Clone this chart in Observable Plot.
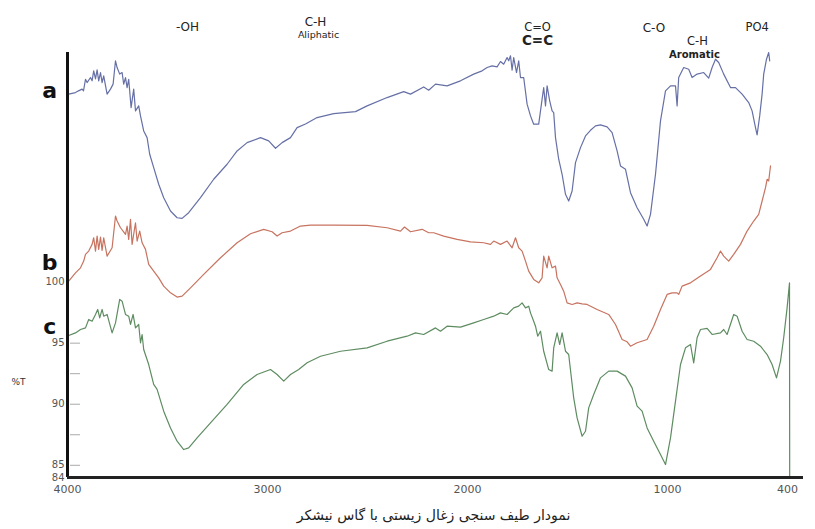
<!DOCTYPE html>
<html>
<head>
<meta charset="utf-8">
<script src="https://cdn.jsdelivr.net/npm/d3@7"></script>
<script src="https://cdn.jsdelivr.net/npm/@observablehq/plot@0.6"></script>
<style>
  html, body { margin: 0; padding: 0; background: #fff; }
  #caption { width: 815px; height: 27px; line-height: 27px; text-align: center; font-family: "DejaVu Sans", "Noto Sans", sans-serif; font-size: 14px; color: #222; padding-left: 52px; box-sizing: border-box; direction: rtl; }
</style>
</head>
<body>
<div id="chart"></div>
<div id="caption">نمودار طیف سنجی زغال زیستی با گاس نیشکر</div>
<script>
// Wavenumber (cm-1) and %T readings for each spectrum (a, b offset upward as in the figure)
const wnA = [3994,3960,3945,3927,3920,3910,3902,3885,3877,3869,3860,3852,3844,3835,3827,3819,3802,3785,3772,3760,3752,3739,3727,3719,3710,3702,3694,3682,3669,3660,3644,3635,3619,3602,3589,3569,3544,3519,3485,3452,3427,3394,3335,3269,3202,3152,3102,3035,2994,2960,2927,2885,2852,2810,2752,2669,2560,2502,2402,2319,2285,2219,2194,2160,2102,2035,1969,1927,1902,1877,1852,1835,1819,1802,1794,1785,1777,1769,1755,1744,1735,1719,1702,1685,1669,1644,1627,1619,1610,1602,1589,1577,1569,1560,1544,1527,1510,1494,1477,1460,1435,1410,1385,1360,1335,1302,1277,1252,1235,1210,1185,1152,1119,1102,1085,1060,1035,1010,985,960,952,944,919,894,877,852,819,794,777,760,744,719,685,660,627,594,577,560,552,539,527,519,505,494,489];
const tA = [115.39,115.52,115.66,115.80,115.66,116.61,116.34,116.75,116.48,117.30,116.64,117.38,116.48,117.16,116.34,116.89,115.39,115.80,116.21,118.12,117.57,117.03,117.16,116.21,116.75,115.93,116.61,114.29,115.80,114.02,114.43,113.61,112.38,111.83,110.47,109.37,108.01,106.91,105.82,105.27,105.22,105.68,106.91,108.42,109.65,110.74,111.42,111.83,111.56,110.96,111.42,111.83,112.65,112.95,113.47,113.80,113.96,114.43,115.11,115.60,115.39,115.98,115.71,116.21,116.07,116.48,117.03,117.30,117.57,117.71,117.62,118.06,117.84,118.39,118.12,118.53,117.35,118.39,117.16,118.12,116.75,116.75,114.57,113.61,112.93,112.93,114.98,115.93,114.43,116.07,114.84,114.02,113.88,111.83,110.06,108.83,107.19,106.64,107.46,109.78,111.01,111.97,112.43,112.79,112.87,112.71,112.24,110.74,109.51,109.24,107.32,106.09,105.14,104.59,105.55,108.83,113.20,115.66,116.07,116.07,114.43,116.75,117.57,117.43,116.75,117.03,117.16,116.70,117.57,118.25,117.98,117.03,115.93,115.93,115.39,114.70,114.02,112.65,112.05,113.61,115.39,117.03,118.25,118.80,118.12];

const wnB = [3994,3960,3935,3919,3910,3894,3877,3869,3860,3852,3844,3835,3827,3819,3802,3777,3760,3752,3735,3722,3710,3702,3694,3685,3677,3660,3652,3639,3627,3610,3594,3569,3544,3519,3485,3452,3427,3385,3319,3235,3152,3085,3019,2977,2952,2927,2885,2835,2785,2669,2502,2402,2335,2315,2285,2227,2194,2169,2119,2052,1985,1919,1885,1869,1835,1802,1777,1760,1744,1727,1710,1694,1669,1644,1627,1619,1602,1594,1577,1560,1552,1535,1519,1502,1477,1452,1427,1402,1352,1294,1260,1227,1202,1185,1152,1102,1069,1035,1002,977,952,944,927,885,835,785,752,735,719,694,669,635,602,569,544,527,510,502,494,485];
const tB = [100.08,100.76,101.17,101.72,102.27,102.54,103.09,103.63,102.54,103.77,102.68,103.69,102.60,103.63,102.13,102.81,105.41,105.00,104.45,104.18,103.91,104.59,103.50,105.14,103.09,104.86,103.36,104.18,103.22,102.68,101.45,100.90,100.35,99.67,99.12,98.77,98.85,99.53,100.63,101.99,103.22,103.96,104.32,104.12,103.77,104.04,104.18,104.59,104.67,104.67,104.65,104.45,104.18,104.51,104.12,104.32,104.04,104.04,103.77,103.50,103.30,103.22,103.09,103.36,103.09,103.36,102.81,103.63,102.81,102.54,101.72,100.90,100.22,99.94,100.35,102.13,101.17,102.13,101.17,101.31,100.35,99.81,99.26,98.30,98.17,98.30,98.22,98.17,97.76,97.35,96.53,95.30,95.11,94.75,95.03,95.30,96.39,97.76,98.99,99.12,99.12,98.99,99.67,99.94,100.49,101.04,101.99,102.54,102.13,101.72,102.27,103.09,104.18,105.00,105.55,106.64,107.73,108.42,108.28,109.51];

const wnC = [3994,3960,3935,3910,3894,3877,3860,3849,3839,3827,3819,3802,3777,3760,3739,3727,3710,3694,3685,3672,3660,3644,3635,3627,3619,3594,3569,3552,3519,3485,3452,3419,3394,3352,3285,3202,3119,3052,2985,2952,2919,2885,2844,2802,2735,2635,2502,2402,2302,2260,2219,2160,2135,2102,2035,1969,1919,1869,1835,1802,1769,1744,1727,1710,1694,1685,1669,1660,1649,1635,1619,1594,1577,1569,1552,1539,1527,1510,1494,1469,1452,1427,1410,1394,1369,1335,1294,1252,1210,1177,1152,1127,1102,1069,1035,1010,985,960,935,910,885,869,852,835,802,777,735,719,702,669,652,627,602,569,535,502,477,455,435,419,402,390,389];
const tC = [95.63,95.84,96.12,96.25,96.94,96.80,97.35,97.76,97.07,97.76,97.21,97.35,95.84,96.66,98.58,98.44,97.35,97.21,96.53,97.35,96.25,96.53,95.03,95.71,94.48,93.25,91.62,91.21,89.43,88.06,86.97,86.29,86.42,87.24,88.47,89.98,91.62,92.43,92.84,92.43,91.89,92.43,92.84,93.39,93.93,94.34,94.61,95.16,95.57,95.84,95.71,96.25,95.98,96.39,96.31,96.66,96.94,97.21,97.48,97.35,97.89,98.03,98.30,97.89,98.03,97.48,96.80,96.39,95.57,95.98,94.34,92.84,92.71,94.61,95.84,94.89,95.84,94.34,94.07,90.52,88.88,87.38,87.79,89.70,90.80,92.16,92.71,92.71,92.30,91.34,89.84,89.43,88.06,86.97,85.88,85.06,87.24,90.25,93.25,94.62,94.89,93.39,95.44,96.12,96.21,95.71,95.84,96.12,95.71,97.35,97.21,95.98,95.30,95.16,94.75,94.07,93.25,92.16,93.53,95.44,97.89,99.94,84.0];

const seriesNames = ["a", "b", "c"];
const seriesColors = ["#6670a6", "#c7735f", "#5e8c61"];

const xTicks = [4000, 3000, 2000, 1000, 400];
const yTickLabels = [84, 85, 90, 95, 100];
const yMinorTicks = [85, 87.5, 90, 92.5, 95];

const bandLabels = ["-OH", "C-H", "Aliphatic", "C=O", "C=C", "C-O", "C-H", "Aromatic", "PO4"];
const bandWn = [3400, 2760, 2745, 1650, 1650, 1068, 850, 865, 552];

// build tables
const makeSeries = (name, wn, t) => wn.map((w, i) => ({series: name, wn: w, t: t[i]}));
const data = [
  ...makeSeries("a", wnA, tA),
  ...makeSeries("b", wnB, tB),
  ...makeSeries("c", wnC, tC)
];
const letterDy = {a: -3, b: -18, c: -9};
const starts = [
  {series: "a", wn: wnA[0], t: tA[0]},
  {series: "b", wn: wnB[0], t: tB[0]},
  {series: "c", wn: wnC[0], t: tC[0]}
];

const bandStyle = [
  {dy: -30, size: 12, weight: 400},
  {dy: -35, size: 12, weight: 400},
  {dy: -21, size: 9.5, weight: 400},
  {dy: -30, size: 11.5, weight: 400},
  {dy: -17, size: 13.5, weight: 700},
  {dy: -29, size: 12, weight: 400},
  {dy: -16, size: 11.5, weight: 400},
  {dy: -2, size: 10, weight: 700},
  {dy: -30, size: 11.5, weight: 400}
];
const bands = bandLabels.map((l, i) => ({label: l, wn: bandWn[i], ...bandStyle[i]}));

const font = "DejaVu Sans, Verdana, sans-serif";

const chart = Plot.plot({
  width: 815,
  height: 502,
  marginTop: 52,
  marginBottom: 25,
  marginLeft: 67,
  marginRight: 12,
  style: {fontFamily: font, background: "#fff", overflow: "visible"},
  x: {domain: [4000, 320], axis: null},
  y: {domain: [84, 118.8], axis: null},
  color: {domain: seriesNames, range: seriesColors},
  marks: [
    Plot.line(data, {x: "wn", y: "t", z: "series", stroke: "series", strokeWidth: 1.2, curve: "linear"}),
    // axes
    Plot.ruleY(yMinorTicks, {x1: 3985, x2: 3935, y: d => d, stroke: "#aaa", strokeWidth: 1}),
    Plot.axisY({ticks: yTickLabels, tickSize: 0, tickPadding: 3, fontSize: 10, fill: "#555", anchor: "left", label: null, tickFormat: d => String(d)}),
    Plot.axisX({ticks: xTicks, tickSize: 0, tickPadding: 8, fontSize: 11, fill: "#555", anchor: "bottom", label: null, tickFormat: d => String(d)}),
    Plot.ruleX([4000], {y1: 84, y2: 118.8, stroke: "#111", strokeWidth: 3}),
    Plot.ruleY([84], {x1: 4000, x2: 320, stroke: "#222", strokeWidth: 3}),
    // series letters
    ...starts.map(s => Plot.text([s], {x: "wn", y: "t", text: "series", dx: -19, dy: letterDy[s.series], fontSize: 22, fontWeight: 700, fill: "#111", textAnchor: "middle"})),
    Plot.text(["%T"], {x: 4000, y: 91.8, text: d => d, dx: -49, fontSize: 9, fill: "#333"}),
    // band labels above the plot
    ...bands.map(b => Plot.text([b], {x: "wn", frameAnchor: "top", dy: b.dy, text: "label", fontSize: b.size, fontWeight: b.weight, fill: "#222"}))
  ]
});
document.getElementById("chart").appendChild(chart);
</script>
</body>
</html>
